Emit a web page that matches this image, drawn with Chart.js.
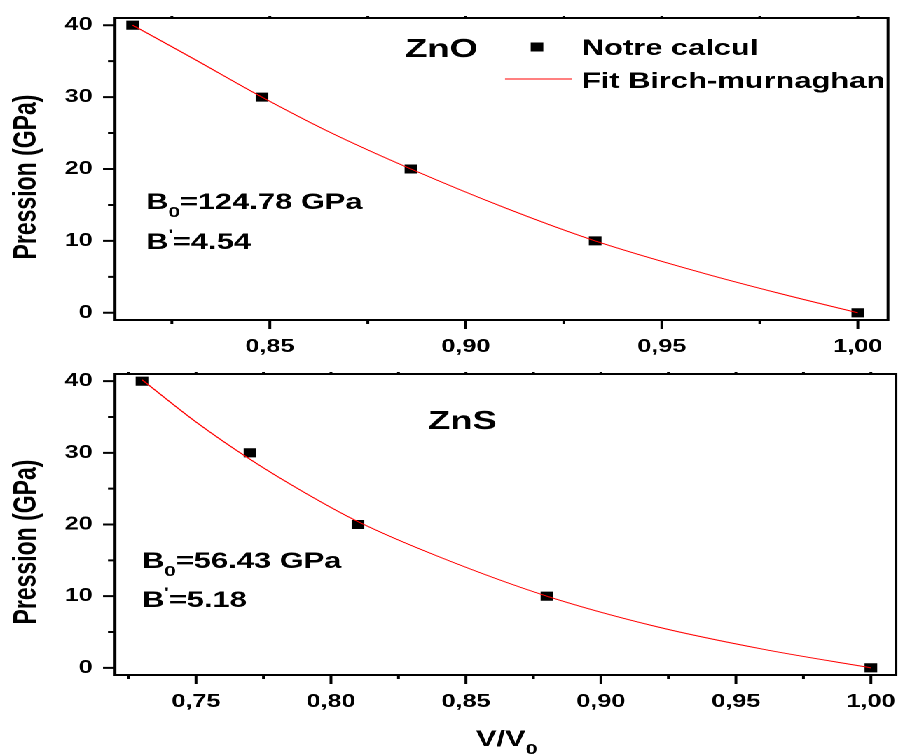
<!DOCTYPE html>
<html>
<head>
<meta charset="utf-8">
<script src="https://cdn.jsdelivr.net/npm/chart.js@4.4.0/dist/chart.umd.min.js"></script>
<style>
  html, body { margin: 0; padding: 0; background: #fff; overflow: hidden; }
  /* the original figure is stretched horizontally, so the charts are too */
  #wrap { position: absolute; left: 0; top: 0; width: 660px; height: 754px;
          transform: scaleX(1.401); transform-origin: 0 0; }
  #wrap canvas { position: absolute; left: 0; }
</style>
</head>
<body>
<div id="wrap">
  <canvas id="zno" width="660" height="360" style="top:0px"></canvas>
  <canvas id="zns" width="660" height="398" style="top:356px"></canvas>
</div>
<script>
// ZnO - calculated points
const znoVol = [0.815, 0.848, 0.886, 0.933, 1.000];
const znoPres = [40, 30, 20, 10, 0];
// ZnO - Birch-Murnaghan fit
const znoFitVol = [0.815, 0.830, 0.848, 0.865, 0.886, 0.910, 0.933, 0.960, 0.980, 1.000];
const znoFitPres = [40.0, 35.5, 30.0, 25.2, 20.0, 14.6, 10.0, 5.6, 2.7, 0.0];

// ZnS - calculated points
const znsVol = [0.730, 0.770, 0.810, 0.880, 1.000];
const znsPres = [40, 30, 20, 10, 0];
// ZnS - Birch-Murnaghan fit
const znsFitVol = [0.730, 0.750, 0.770, 0.790, 0.810, 0.840, 0.880, 0.920, 0.960, 1.000];
const znsFitPres = [40.2, 34.3, 29.1, 24.5, 20.4, 15.5, 10.0, 5.8, 2.6, 0.0];

// tick values
const znoXTicks = [0.825, 0.85, 0.875, 0.90, 0.925, 0.95, 0.975, 1.00];
const znsXTicks = [0.725, 0.75, 0.775, 0.80, 0.825, 0.85, 0.875, 0.90, 0.925, 0.95, 0.975, 1.00];
const yTicks = [0, 5, 10, 15, 20, 25, 30, 35, 40];

const S = 1.401;  // horizontal stretch
const CW = 660;   // canvas width before stretch (right part is cropped)
const FONT = '"Liberation Sans", Arial, sans-serif';

const isMajorX = v => Math.round(v * 1000) % 50 === 0;
const isMajorY = v => v % 10 === 0;
const fmtX = v => v.toFixed(2).replace('.', ',');

function drawRuns(ctx, x, y, runs) {
  runs.forEach(r => {
    ctx.font = 'bold ' + r.size + 'px ' + FONT;
    ctx.fillText(r.text, x, y + (r.dy || 0));
    x += ctx.measureText(r.text).width;
  });
}

function noPadding(s) {
  s.paddingTop = 0;
  s.paddingBottom = 0;
  s.paddingLeft = 0;
  s.paddingRight = 0;
}

// box, tick marks, annotations
const framePlugin = {
  id: 'frame',
  afterDraw(chart, args, opts) {
    const { ctx, chartArea: a } = chart;
    const x = chart.scales.x, y = chart.scales.y;
    ctx.save();
    ctx.strokeStyle = '#000';
    ctx.lineWidth = 2;
    ctx.strokeRect(a.left, a.top, a.right - a.left, a.bottom - a.top);
    ctx.beginPath();
    x.ticks.forEach(t => {
      const px = x.getPixelForValue(t.value);
      ctx.moveTo(px, a.bottom);
      ctx.lineTo(px, a.bottom + (isMajorX(t.value) ? 9 : 4));
      ctx.moveTo(px, a.top);
      ctx.lineTo(px, a.top - 2);
    });
    y.ticks.forEach(t => {
      const py = y.getPixelForValue(t.value);
      ctx.moveTo(a.left, py);
      ctx.lineTo(a.left - (isMajorY(t.value) ? 12 : 7) / S, py);
    });
    ctx.stroke();

    ctx.fillStyle = '#000';
    ctx.textAlign = 'left';
    ctx.textBaseline = 'alphabetic';
    opts.texts.forEach(t => drawRuns(ctx, t.x / S, t.y, t.runs));

    // y axis title
    ctx.save();
    ctx.translate(27 / S, opts.yTitleY);
    ctx.rotate(-Math.PI / 2);
    ctx.textAlign = 'center';
    ctx.textBaseline = 'middle';
    ctx.font = 'bold 23px ' + FONT;
    ctx.fillText('Pression (GPa)', 0, 0);
    ctx.restore();

    if (opts.legend) {
      const ds = chart.data.datasets;
      ctx.fillStyle = ds[0].backgroundColor;
      ctx.fillRect(537 / S - 4.5, 47 - 4.5, 9, 9);
      ctx.strokeStyle = ds[1].borderColor;
      ctx.lineWidth = 1;
      ctx.beginPath();
      ctx.moveTo(505 / S, 79);
      ctx.lineTo(572 / S, 79);
      ctx.stroke();
      ctx.fillStyle = '#000';
      drawRuns(ctx, 582 / S, 55, [{ text: ds[0].label, size: 22 }]);
      drawRuns(ctx, 582 / S, 88, [{ text: ds[1].label, size: 22 }]);
    }
    ctx.restore();
  }
};

function makeChart(id, vol, pres, fitVol, fitPres, xMin, xMax, xTicks, rightPx, xHeight, annot) {
  return new Chart(document.getElementById(id), {
    type: 'scatter',
    data: {
      datasets: [
        {
          label: 'Notre calcul',
          data: vol.map((v, i) => ({ x: v, y: pres[i] })),
          pointStyle: 'rect',
          pointRadius: 6.4,
          backgroundColor: '#000',
          borderWidth: 0,
          order: 2
        },
        {
          type: 'line',
          label: 'Fit Birch-murnaghan',
          data: fitVol.map((v, i) => ({ x: v, y: fitPres[i] })),
          borderColor: '#ff0000',
          borderWidth: 1,
          pointRadius: 0,
          fill: false,
          cubicInterpolationMode: 'monotone',
          order: 1
        }
      ]
    },
    options: {
      responsive: false,
      animation: false,
      devicePixelRatio: 2,
      layout: { padding: { top: 18, right: CW - rightPx / S, left: 0, bottom: 0 } },
      scales: {
        x: {
          type: 'linear',
          min: xMin,
          max: xMax,
          afterBuildTicks: s => { s.ticks = xTicks.map(v => ({ value: v })); },
          afterFit: s => { s.height = xHeight; noPadding(s); },
          grid: { display: false, drawTicks: false },
          border: { display: false },
          ticks: {
            padding: 16,
            autoSkip: false,
            maxRotation: 0,
            color: '#000',
            font: { family: FONT, size: 18, weight: 'bold' },
            callback: v => isMajorX(v) ? fmtX(v) : ''
          }
        },
        y: {
          type: 'linear',
          min: -1,
          max: 41,
          afterBuildTicks: s => { s.ticks = yTicks.map(v => ({ value: v })); },
          afterFit: s => { s.width = 115 / S; noPadding(s); },
          grid: { display: false, drawTicks: false },
          border: { display: false },
          ticks: {
            padding: 16,
            autoSkip: false,
            color: '#000',
            font: { family: FONT, size: 18, weight: 'bold' },
            callback: v => isMajorY(v) ? String(v) : ''
          }
        }
      },
      plugins: {
        legend: { display: false },
        tooltip: { enabled: false },
        frame: annot
      }
    },
    plugins: [framePlugin]
  });
}

makeChart('zno', znoVol, znoPres, znoFitVol, znoFitPres, 0.8105, 1.0077, znoXTicks, 888, 40, {
  yTitleY: 177,
  legend: true,
  texts: [
    { x: 405, y: 57, runs: [{ text: 'ZnO', size: 26 }] },
    { x: 146, y: 209, runs: [{ text: 'B', size: 22 }, { text: '0', size: 15, dy: 8 }, { text: '=124.78 GPa', size: 22 }] },
    { x: 146, y: 249, runs: [{ text: 'B', size: 22 }, { text: "'", size: 14, dy: -10 }, { text: '=4.54', size: 22 }] }
  ]
});

makeChart('zns', znsVol, znsPres, znsFitVol, znsFitPres, 0.72, 1.0093, znsXTicks, 896, 79, {
  yTitleY: 186,
  legend: false,
  texts: [
    { x: 428, y: 73, runs: [{ text: 'ZnS', size: 26 }] },
    { x: 142, y: 212, runs: [{ text: 'B', size: 22 }, { text: '0', size: 15, dy: 8 }, { text: '=56.43 GPa', size: 22 }] },
    { x: 142, y: 251, runs: [{ text: 'B', size: 22 }, { text: "'", size: 14, dy: -10 }, { text: '=5.18', size: 22 }] },
    { x: 476, y: 390, runs: [{ text: 'V/V', size: 22 }, { text: '0', size: 15, dy: 8 }] }
  ]
});
</script>
</body>
</html>
